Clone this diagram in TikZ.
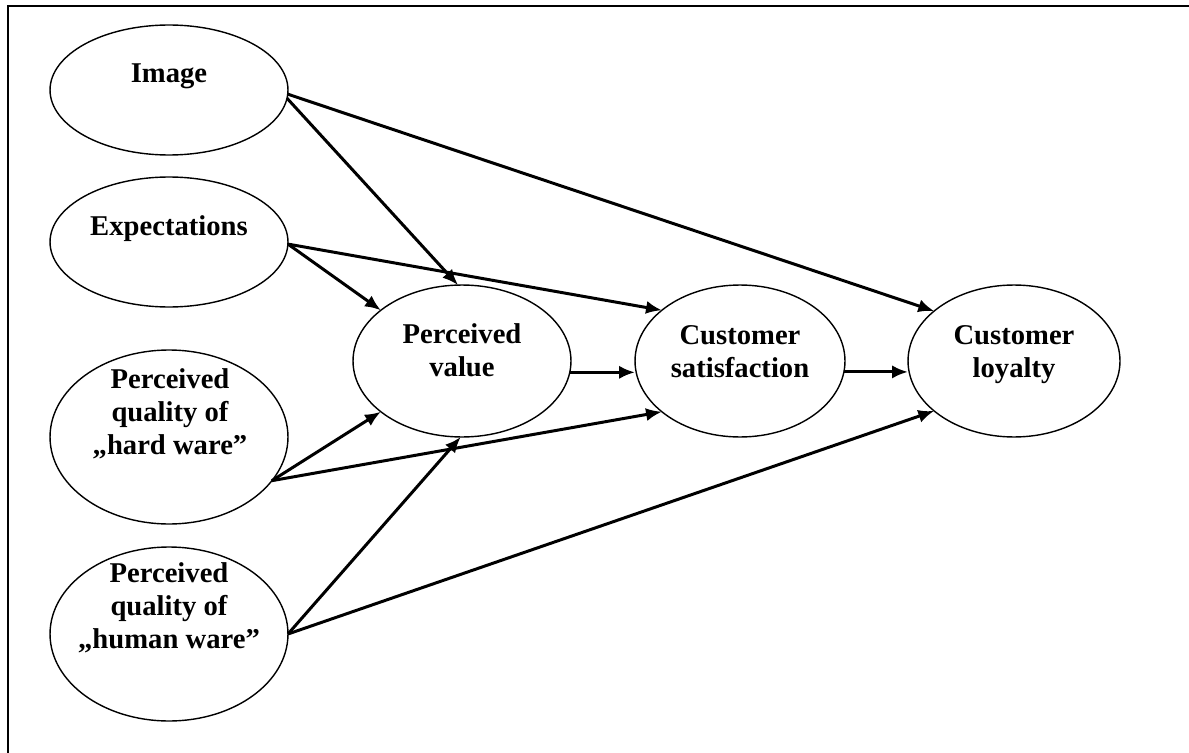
\documentclass[tikz,border=0pt]{standalone}
\usepackage{fontspec}
\setmainfont{Liberation Serif}
\usetikzlibrary{arrows.meta,shapes.geometric}
\begin{document}
\begin{tikzpicture}[x=0.02cm,y=-0.02cm,
  ell/.style={draw,ellipse,line width=0.8pt,inner sep=0pt,outer sep=0pt},
  lbl/.style={anchor=north,inner sep=0pt,align=center,font=\fontsize{16.3}{19}\selectfont\bfseries},
  conn/.style={line width=1.7pt,-{Latex[length=9pt,width=7.5pt]}}]
\useasboundingbox (0,0) rectangle (1189,753);
\draw[line width=1.1pt] (8,753) -- (8,6) -- (1189,6);

\node[ell,minimum width=4.76cm,minimum height=2.6cm] (img) at (169,90) {};
\node[ell,minimum width=4.76cm,minimum height=2.6cm] (exp) at (169,242) {};
\node[ell,minimum width=4.76cm,minimum height=3.48cm] (hw) at (169,437) {};
\node[ell,minimum width=4.76cm,minimum height=3.48cm] (hum) at (169,634) {};
\node[ell,minimum width=4.36cm,minimum height=3.04cm] (pv) at (462,361) {};
\node[ell,minimum width=4.2cm,minimum height=3.04cm] (cs) at (740,361) {};
\node[ell,minimum width=4.24cm,minimum height=3.04cm] (cl) at (1014,361) {};

\node[lbl] (imgT) at (169,63) {Image};
\node[lbl] (expT) at (169,215) {Expectations};
\node[lbl] (hwT) at (170,368) {Perceived\\quality of\\„hard ware”};
\node[lbl] (humT) at (169,562) {Perceived\\quality of\\„human ware”};
\node[lbl] (pvT) at (462,323) {Perceived\\value};
\node[lbl] (csT) at (740,325) {Customer\\satisfaction};
\node[lbl] (clT) at (1014,325) {Customer\\loyalty};

\draw[conn] (img.-4) -- (pv.93);
\draw[conn] (img.-2) -- (cl.148);
\draw[conn] (exp.-1) -- (pv.148);
\draw[conn] (exp.-1) -- (cs.147);
\draw[conn] (hw.-23.5) -- (pv.212.5);
\draw[conn] (hw.-23.5) -- (cs.213);
\draw[conn] (hum.east) -- (pv.-91.5);
\draw[conn] (hum.east) -- (cl.212);
\draw[conn] (pv.-6) -- (pv.-6 -| cs.west);
\draw[conn] (cs.-6) -- (cs.-6 -| cl.west);
\end{tikzpicture}
\end{document}
